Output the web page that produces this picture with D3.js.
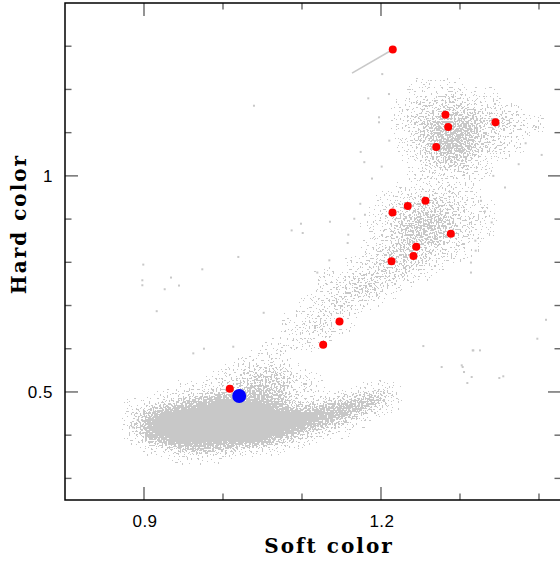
<!DOCTYPE html>
<html>
<head>
<meta charset="utf-8">
<script src="https://cdn.jsdelivr.net/npm/d3@7"></script>
<style>
  body { margin: 0; background: #fff; }
</style>
</head>
<body>
<script>
/* Data */

var softTicks = [0.9, 1.0, 1.1, 1.2, 1.3, 1.4];
var softLabels = [0.9, 1.2];
var hardTicks = [0.3, 0.4, 0.5, 0.6, 0.7, 0.8, 0.9, 1.0, 1.1, 1.2, 1.3];
var hardLabels = [0.5, 1.0];

// gray cloud density, one digit (0-9) per 0.02 x 0.02 cell, rows from top
var gridSoftStart = 0.86, gridHardTop = 1.32, gridStep = 0.02;
var densityRows = [
  "", "", "", "", "",
  "0000000000000000000111",
  "000000000000000000011211",
  "0000000000000000001223211",
  "00000000000000000012343221",
  "000000000000000000134543321",
  "000000000000000000135553321",
  "00000000000000000013565321",
  "00000000000000000012565321",
  "0000000000000000001245421",
  "000000000000000000013431",
  "000000000000000000012221",
  "00000000000000000001111",
  "00000000000000000011221",
  "00000000000000000122321",
  "000000000000000001233321",
  "000000000000000012344321",
  "000000000000000012455321",
  "000000000000000012454321",
  "00000000000000001244421",
  "00000000000000001343221",
  "0000000000000001233321",
  "000000000000000123321",
  "00000000000001123321",
  "0000000000000123321",
  "000000000000012331",
  "00000000000012321",
  "0000000000001221",
  "000000000001221",
  "000000000001221",
  "00000000000121",
  "0000000000111",
  "00000000011",
  "00000000111",
  "000000012331",
  "0000001234421",
  "000011224542100011",
  "000123566652112353",
  "012468999863346751",
  "026999999988887410",
  "0389999999998631",
  "038999999997421",
  "0158999998521",
  "00135654321",
  "0000111"
];

// isolated points away from the clouds
var outlierSoft = [1.0392, 1.1839, 1.2101, 1.1975, 1.1975, 1.2016, 1.1743, 1.1789, 1.2009, 1.1886,
  1.1738, 1.1797, 1.1662, 1.1354, 1.0987, 1.0869, 1.1009, 1.1586, 1.0194, 0.9738,
  0.8991, 0.8979, 0.8979, 0.9342, 0.9443, 0.9262, 0.9161, 1.0515, 0.9759, 0.9624,
  1.0130, 1.1194, 1.1346, 1.1578, 1.2105, 1.4034, 1.4089, 1.3979, 1.3161, 1.3253,
  1.3034, 1.3051, 1.3148, 1.3498, 1.3548, 1.3093, 1.3194, 1.3199, 1.3139, 1.3139,
  1.3316, 1.3401, 1.3266, 1.3570, 1.3422, 1.3743, 1.3831, 1.3962, 1.2536, 1.3169,
  1.2768, 1.3022, 0.8860, 0.8920, 0.8990];
var outlierHard = [1.1623, 1.1794, 1.1893, 1.1355, 1.1240, 1.2355, 1.0554, 1.0317, 1.0215, 0.9938,
  0.9354, 0.9100, 0.9008, 0.8939, 0.8893, 0.8738, 0.8678, 0.8639, 0.8124, 0.7838,
  0.7947, 0.7584, 0.7469, 0.7647, 0.7462, 0.7377, 0.6869, 0.6832, 0.6001, 0.5893,
  0.6047, 0.7762, 0.8046, 0.8447, 1.0815, 1.0485, 0.6670, 0.6232, 0.5962, 0.5962,
  0.5577, 0.5461, 0.5346, 0.5323, 0.5362, 0.5207, 0.8500, 0.8270, 0.7994, 0.7763,
  0.9177, 0.8923, 0.9423, 0.9731, 1.0000, 1.0270, 1.0755, 1.1131, 0.6062, 0.5962,
  0.5577, 0.5616, 0.4180, 0.4350, 0.4050];

var streakSoft = [1.1633, 1.2149];
var streakHard = [1.2377, 1.2925];

var redSoft = [1.2149, 1.2816, 1.2851, 1.3449, 1.2699, 1.2563, 1.2339, 1.2146, 1.2884, 1.2446,
  1.2411, 1.2133, 1.1475, 1.1268, 1.0086];
var redHard = [1.2925, 1.1415, 1.1131, 1.1240, 1.0670, 0.9424, 0.9301, 0.9154, 0.8662, 0.8362,
  0.8147, 0.8023, 0.6631, 0.6093, 0.5077];

var blueSoft = [1.0205];
var blueHard = [0.4907];


/* Chart */

var width = 560, height = 561;
var frameL = 65, frameR = 561, frameT = 3, frameB = 500;
var grayDot = "#c8c8c8";
var serif = "'DejaVu Serif', serif";
var sans = "'Liberation Sans', Arial, sans-serif";

var x = d3.scaleLinear().domain([0.8, 1.4266]).range([frameL, 560]);
var y = d3.scaleLinear().domain([0.25, 1.4]).range([frameB, frameT]);

var svg = d3.select("body").append("svg")
    .attr("width", width)
    .attr("height", height);

var defs = svg.append("defs");
defs.append("clipPath").attr("id", "plotClip")
  .append("rect")
    .attr("x", frameL).attr("y", frameT)
    .attr("width", frameR - frameL).attr("height", frameB - frameT);

// density -> stippled dots: blur the cells, compare with a noise texture, keep pixels above it
var stip = defs.append("filter").attr("id", "stipple")
    .attr("filterUnits", "userSpaceOnUse")
    .attr("x", 0).attr("y", 0).attr("width", width).attr("height", height)
    .attr("color-interpolation-filters", "sRGB");
stip.append("feGaussianBlur")
    .attr("in", "SourceGraphic").attr("stdDeviation", "5 3").attr("result", "dens");
stip.append("feTurbulence")
    .attr("type", "fractalNoise").attr("baseFrequency", 0.55)
    .attr("numOctaves", 1).attr("seed", 7).attr("result", "noise");
var stretch = stip.append("feComponentTransfer").attr("in", "noise").attr("result", "grain");
stretch.append("feFuncA").attr("type", "linear").attr("slope", 2.6).attr("intercept", -0.8);
stip.append("feComposite")
    .attr("in", "dens").attr("in2", "grain").attr("operator", "arithmetic")
    .attr("k1", 0).attr("k2", 3.5).attr("k3", -3).attr("k4", 0.45).attr("result", "diff");
var thr = stip.append("feComponentTransfer").attr("in", "diff").attr("result", "mask");
thr.append("feFuncA").attr("type", "discrete").attr("tableValues", "0 1");
stip.append("feFlood").attr("flood-color", grayDot).attr("result", "gray");
stip.append("feComposite").attr("in", "gray").attr("in2", "mask").attr("operator", "in");

var plot = svg.append("g").attr("clip-path", "url(#plotClip)");

// density cells
var cells = [];
densityRows.forEach(function(row, r) {
    row.split("").forEach(function(ch, c) {
        var level = +ch;
        if (level > 0) {
            cells.push({
                s0: gridSoftStart + c * gridStep,
                h0: gridHardTop - r * gridStep,
                level: level
            });
        }
    });
});

plot.append("g")
    .attr("filter", "url(#stipple)")
  .selectAll("rect")
    .data(cells)
    .enter()
    .append("rect")
    .attr("x", function(d) { return x(d.s0); })
    .attr("y", function(d) { return y(d.h0); })
    .attr("width", function(d) { return x(d.s0 + gridStep) - x(d.s0); })
    .attr("height", function(d) { return y(d.h0 - gridStep) - y(d.h0); })
    .attr("fill", "#000")
    .attr("fill-opacity", function(d) { return d.level / 9; });

// single points
plot.append("g").selectAll("rect")
    .data(outlierSoft.map(function(s, i) { return [s, outlierHard[i]]; }))
    .enter()
    .append("rect")
    .attr("x", function(d) { return x(d[0]) - 1; })
    .attr("y", function(d) { return y(d[1]) - 1; })
    .attr("width", 2)
    .attr("height", 2)
    .attr("fill", grayDot);

// the short streak up to the top red point
plot.append("line")
    .attr("x1", x(streakSoft[0])).attr("y1", y(streakHard[0]))
    .attr("x2", x(streakSoft[1])).attr("y2", y(streakHard[1]))
    .attr("stroke", grayDot)
    .attr("stroke-width", 1.6);

plot.append("g").selectAll("circle")
    .data(redSoft.map(function(s, i) { return [s, redHard[i]]; }))
    .enter()
    .append("circle")
    .attr("cx", function(d) { return x(d[0]); })
    .attr("cy", function(d) { return y(d[1]); })
    .attr("r", 4)
    .attr("fill", "#ff0000");

plot.append("g").selectAll("circle")
    .data(blueSoft.map(function(s, i) { return [s, blueHard[i]]; }))
    .enter()
    .append("circle")
    .attr("cx", function(d) { return x(d[0]); })
    .attr("cy", function(d) { return y(d[1]); })
    .attr("r", 7)
    .attr("fill", "#0000ff");


/* Frame and ticks */

function tickLen(v, labels) {
    return labels.some(function(l) { return Math.abs(l - v) < 1e-6; }) ? 13 : 6.5;
}

var ticks = svg.append("g")
    .attr("stroke", "#666")
    .attr("stroke-width", 1.4);

softTicks.forEach(function(v) {
    var len = tickLen(v, softLabels);
    ticks.append("line").attr("x1", x(v)).attr("x2", x(v)).attr("y1", frameB).attr("y2", frameB - len);
    ticks.append("line").attr("x1", x(v)).attr("x2", x(v)).attr("y1", frameT).attr("y2", frameT + len);
});

hardTicks.forEach(function(v) {
    var len = tickLen(v, hardLabels);
    ticks.append("line").attr("x1", frameL).attr("x2", frameL + len).attr("y1", y(v)).attr("y2", y(v));
    ticks.append("line").attr("x1", frameR).attr("x2", frameR - len).attr("y1", y(v)).attr("y2", y(v));
});

svg.append("rect")
    .attr("x", frameL).attr("y", frameT)
    .attr("width", frameR - frameL).attr("height", frameB - frameT)
    .attr("fill", "none")
    .attr("stroke", "#000")
    .attr("stroke-width", 1.5);

svg.append("g").selectAll("text")
    .data(softLabels)
    .enter()
    .append("text")
    .attr("x", function(d) { return x(d) + 1; })
    .attr("y", 527)
    .attr("text-anchor", "middle")
    .attr("font-family", sans)
    .attr("font-size", 17)
    .attr("letter-spacing", 0.5)
    .text(function(d) { return d3.format(".1f")(d); });

svg.append("g").selectAll("text")
    .data(hardLabels)
    .enter()
    .append("text")
    .attr("x", 53)
    .attr("y", function(d) { return y(d) + 6; })
    .attr("text-anchor", "end")
    .attr("font-family", sans)
    .attr("font-size", 17)
    .attr("letter-spacing", 0.5)
    .text(function(d) { return d === 1 ? "1" : d3.format(".1f")(d); });

svg.append("text")
    .attr("x", 329)
    .attr("y", 553)
    .attr("text-anchor", "middle")
    .attr("font-family", serif)
    .attr("font-weight", "bold")
    .attr("font-size", 20)
    .attr("letter-spacing", 2)
    .text("Soft color");

svg.append("text")
    .attr("transform", "translate(26,224) rotate(-90)")
    .attr("text-anchor", "middle")
    .attr("font-family", serif)
    .attr("font-weight", "bold")
    .attr("font-size", 20)
    .attr("letter-spacing", 2)
    .text("Hard color");
</script>
</body>
</html>
